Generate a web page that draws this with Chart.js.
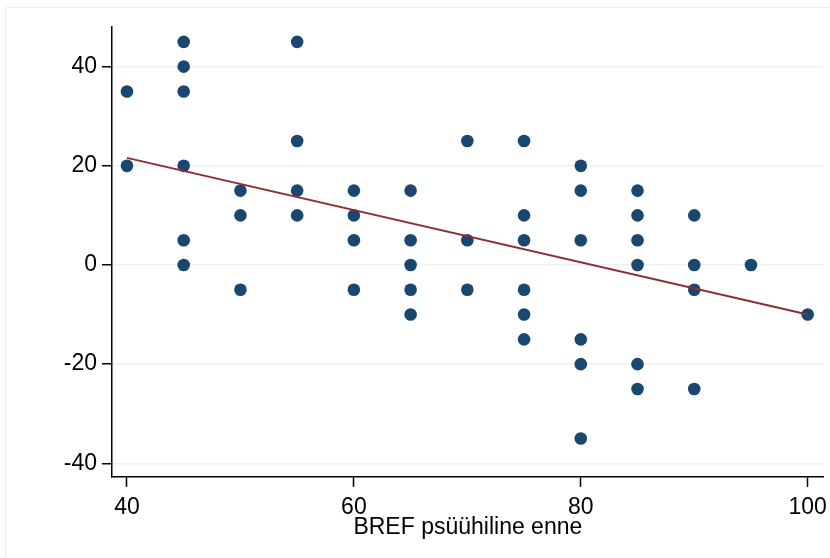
<!DOCTYPE html>
<html>
<head>
<meta charset="utf-8">
<script src="https://cdn.jsdelivr.net/npm/chart.js@4.4.1/dist/chart.umd.min.js"></script>
<style>
  html, body { margin: 0; padding: 0; background: #fff; }
  canvas { display: block; }
</style>
</head>
<body>
<canvas id="chart" width="830" height="558"></canvas>
<script>
const brefX = [40, 40,
  45, 45, 45, 45, 45, 45,
  50, 50, 50,
  55, 55, 55, 55,
  60, 60, 60, 60,
  65, 65, 65, 65, 65,
  70, 70, 70,
  75, 75, 75, 75, 75, 75,
  80, 80, 80, 80, 80, 80,
  85, 85, 85, 85, 85, 85,
  90, 90, 90, 90,
  95,
  100];
const changeY = [35, 20,
  45, 40, 35, 20, 5, 0,
  15, 10, -5,
  45, 25, 15, 10,
  15, 10, 5, -5,
  15, 5, 0, -5, -10,
  25, 5, -5,
  25, 10, 5, -5, -10, -15,
  20, 15, 5, -15, -20, -35,
  15, 10, 5, 0, -20, -25,
  10, 0, -5, -25,
  0,
  -10];

// fitted line end points
const fitX = [40, 100];
const fitY = [21.6, -10];

const xTicks = [40, 60, 80, 100];
const yTicks = [-40, -20, 0, 20, 40];
const xTitle = "BREF psüühiline enne";

const font = { family: "'Liberation Sans', Arial, sans-serif", size: 23 };

const frame = {
  id: "frame",
  beforeDraw(chart) {
    const ctx = chart.ctx;
    ctx.save();
    ctx.fillStyle = "#fff";
    ctx.fillRect(0, 0, chart.width, chart.height);
    ctx.strokeStyle = "#eeeeee";
    ctx.lineWidth = 1;
    ctx.beginPath();
    ctx.moveTo(5.5, chart.height);
    ctx.lineTo(5.5, 7.5);
    ctx.lineTo(chart.width, 7.5);
    ctx.stroke();
    ctx.restore();
  }
};

new Chart(document.getElementById("chart"), {
  type: "scatter",
  data: {
    datasets: [
      {
        type: "line",
        data: fitX.map((x, i) => ({ x: x, y: fitY[i] })),
        borderColor: "#8f2d35",
        borderWidth: 2,
        pointRadius: 0,
        fill: false
      },
      {
        data: brefX.map((x, i) => ({ x: x, y: changeY[i] })),
        backgroundColor: "#1a476f",
        borderWidth: 0,
        pointRadius: 6.3
      }
    ]
  },
  options: {
    responsive: false,
    animation: false,
    devicePixelRatio: 1,
    layout: { padding: { left: 0, top: 27, right: 6, bottom: 0 } },
    plugins: { legend: { display: false }, tooltip: { enabled: false } },
    scales: {
      x: {
        type: "linear",
        min: 38.68,
        max: 101.41,
        afterBuildTicks: (s) => { s.ticks = xTicks.map((v) => ({ value: v })); },
        afterFit: (s) => {
          s.height = 81;
          // keep the plot edge where it is, the "100" label may hang over
          s.paddingLeft = 0;
          s.paddingRight = 0;
        },
        grid: { drawOnChartArea: false, drawTicks: true, tickLength: 10, tickColor: "#000", tickWidth: 1.5 },
        border: { display: true, color: "#000", width: 1.5 },
        ticks: { font: font, color: "#000", padding: 7, maxRotation: 0, autoSkip: false },
        title: { display: true, text: xTitle, font: font, color: "#000", padding: { top: 0, bottom: 17 } }
      },
      y: {
        type: "linear",
        min: -42.76,
        max: 48,
        afterBuildTicks: (s) => { s.ticks = yTicks.map((v) => ({ value: v })); },
        afterFit: (s) => { s.width = 112; },
        grid: { color: "#eaf2f3", lineWidth: 1.5, tickLength: 10, tickColor: "#000", tickWidth: 1.5 },
        border: { display: true, color: "#000", width: 1.5 },
        ticks: { font: font, color: "#000", padding: 5, autoSkip: false }
      }
    }
  },
  plugins: [frame]
});
</script>
</body>
</html>
